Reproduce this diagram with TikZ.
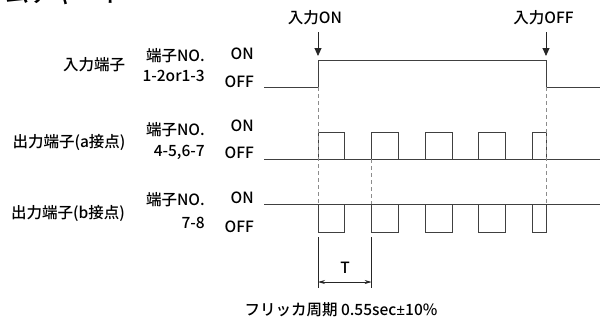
\documentclass[tikz,border=0pt]{standalone}
\usepackage{fontspec}
\setmainfont{Noto Sans CJK JP}[UprightFont=* Medium]
\newfontfamily\latinfont{Noto Sans}
\usetikzlibrary{arrows.meta}

\tikzset{
  sig/.style={line width=1pt, draw=black!75, line join=miter},
  guide/.style={line width=0.8pt, draw=black!45, dash pattern=on 4pt off 3pt},
  trig/.style={line width=0.9pt, draw=black!85, -{Triangle[length=8pt,width=7pt]}},
  dim/.style={line width=0.7pt, draw=black!85},
  lbl/.style={inner sep=0pt, font=\fontsize{15.5}{18}\selectfont},
}

\begin{document}
\begin{tikzpicture}[x=1pt, y=-1pt]
    \useasboundingbox (0,0) rectangle (601,322);
    % title, cut off at the top edge
    \begin{scope}
      \clip (0,0) rectangle (601,322);
      \node[inner sep=0pt, anchor=base west, font=\fontsize{24}{28}\selectfont] (title) at (-42,2) {タイムチャート};
    \end{scope}
    % input terminal
    \begin{scope}
      \node[lbl] (inname) at (94,65) {入力端子};
      \node[lbl, anchor=east] (inno) at (205,55.5) {端子NO.};
      \node[lbl, anchor=east] (inpins) at (205,76) {1-2or1-3};
      \node[lbl, anchor=east] (inon) at (254,54) {ON};
      \node[lbl, anchor=east] (inoff) at (254,82) {OFF};
      \draw[sig] (264,87) -- (318,87) -- (318,60) -- (546,60) -- (546,87) -- (600,87);
      \node[lbl] (trigon) at (315,17.5) {入力ON};
      \node[lbl] (trigoff) at (543.5,17.5) {入力OFF};
      \coordinate (ontop) at (318,32);
      \coordinate (onhit) at (318,56);
      \coordinate (offtop) at (546,32);
      \coordinate (offhit) at (546,56);
      \draw[trig] (ontop) -- (onhit);
      \draw[trig] (offtop) -- (offhit);
    \end{scope}
    % output terminal, a contact
    \begin{scope}
      \node[lbl] (aname) at (69,142) {出力端子(a接点)};
      \node[lbl, anchor=east] (ano) at (205,130) {端子NO.};
      \node[lbl, anchor=east] (apins) at (205,152) {4-5,6-7};
      \node[lbl, anchor=east] (aon) at (254,126) {ON};
      \node[lbl, anchor=east] (aoff) at (254,153) {OFF};
      \draw[sig] (264,159) -- (600,159);
      \foreach \t in {318,371.6,425.2,478.8}
        \draw[sig] (\t,159) -- (\t,132) -- (\t+26.8,132) -- (\t+26.8,159);
      \draw[sig] (532.4,159) -- (532.4,132) -- (546,132) -- (546,159);
    \end{scope}
    % output terminal, b contact
    \begin{scope}
      \node[lbl] (bname) at (68,213) {出力端子(b接点)};
      \node[lbl, anchor=east] (bno) at (205,200) {端子NO.};
      \node[lbl, anchor=east] (bpins) at (205,223) {7-8};
      \node[lbl, anchor=east] (bon) at (254,198) {ON};
      \node[lbl, anchor=east] (boff) at (254,227) {OFF};
      \draw[sig] (264,204) -- (600,204);
      \foreach \t in {318,371.6,425.2,478.8}
        \draw[sig] (\t,204) -- (\t,232) -- (\t+26.8,232) -- (\t+26.8,204);
      \draw[sig] (532.4,204) -- (532.4,232) -- (546,232) -- (546,204);
    \end{scope}
    % guide lines
    \draw[guide] (318,87) -- (318,204);
    \draw[guide] (546,87) -- (546,204);
    \draw[guide] (371.6,159) -- (371.6,204);
    % period
    \draw[dim] (318,237) -- (318,288);
    \draw[dim] (371.6,237) -- (371.6,288);
    \draw[dim, {Stealth[length=7pt,width=4pt]}-{Stealth[length=7pt,width=4pt]}] (318,282) -- (371.6,282);
    \node[lbl] (period) at (345,268) {T};
    \node[lbl] (caption) at (341,310) {フリッカ周期 0.55sec{\latinfont ±}10\%};
  \end{tikzpicture}
\end{document}
